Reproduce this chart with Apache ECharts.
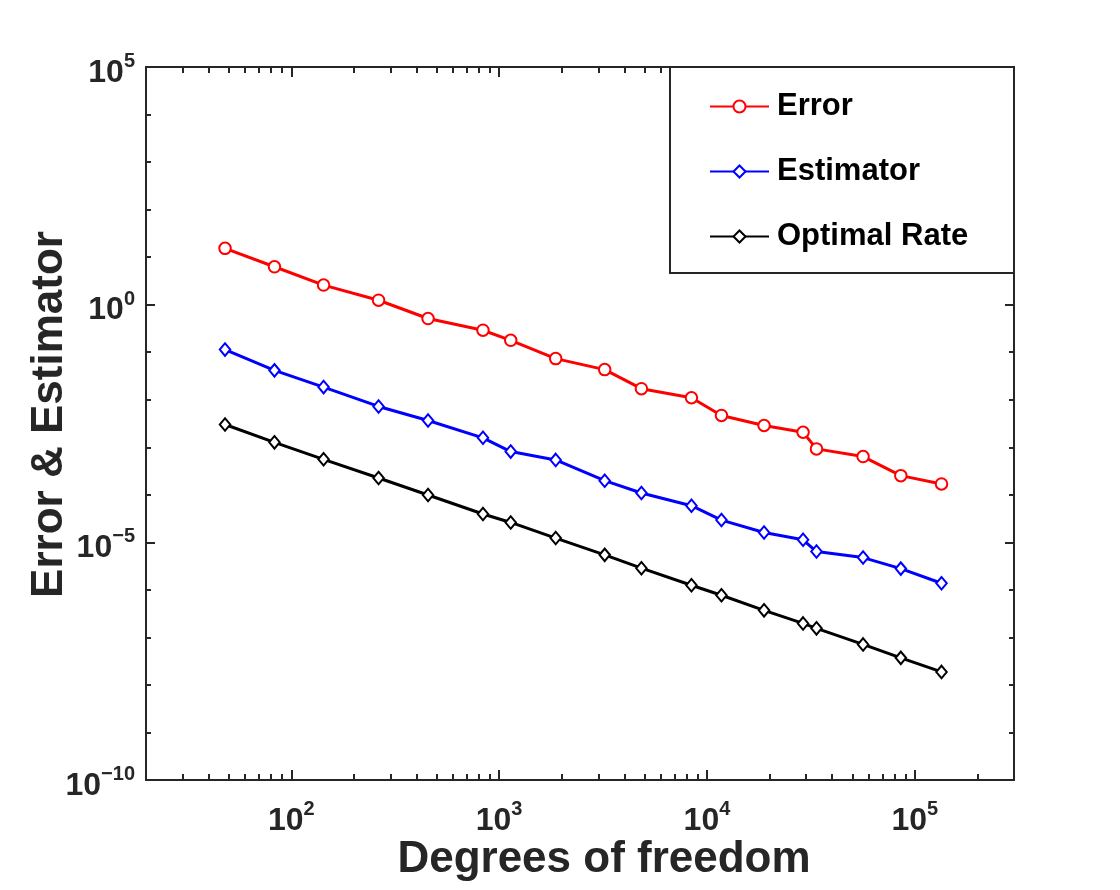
<!DOCTYPE html>
<html>
<head>
<meta charset="utf-8">
<script src="https://cdn.jsdelivr.net/npm/echarts@6/dist/echarts.min.js"></script>
<style>
html,body{margin:0;padding:0;background:#fff;}
#chart{width:1120px;height:890px;}
</style>
</head>
<body>
<div id="chart"></div>
<script>
// ---- data ----
const dof = [48, 83, 143, 263, 455, 836, 1137, 1871, 3220, 4837, 8420, 11740, 18820, 28990, 33640, 56370, 85610, 134400];
const errorVals = [15.3, 6.27, 2.58, 1.24, 0.511, 0.290, 0.178, 0.0733, 0.0430, 0.0171, 0.0110, 0.00467, 0.00287, 0.00207, 0.000925, 0.000637, 0.000253, 0.000169];
const estimatorVals = [0.1135, 0.0415, 0.01845, 0.00722, 0.00366, 0.00158, 0.000811, 0.000542, 0.000198, 0.000109, 5.89e-5, 2.94e-5, 1.61e-5, 1.13e-5, 6.40e-6, 4.78e-6, 2.80e-6, 1.38e-6];
const optimalVals = [0.00301, 0.00127, 0.000558, 0.000226, 9.90e-5, 3.94e-5, 2.62e-5, 1.23e-5, 5.45e-6, 2.86e-6, 1.25e-6, 7.69e-7, 3.71e-7, 1.97e-7, 1.55e-7, 7.12e-8, 3.71e-8, 1.88e-8];
const seriesNames = ['Error', 'Estimator', 'Optimal Rate'];

// ---- axes / ticks ----
const xRange = [20, 300000];
const yRange = [1e-10, 1e5];
const xMajorTicks = [100, 1000, 10000, 100000];
const xMinorTicks = [30, 40, 50, 60, 70, 80, 90,
  200, 300, 400, 500, 600, 700, 800, 900,
  2000, 3000, 4000, 5000, 6000, 7000, 8000, 9000,
  20000, 30000, 40000, 50000, 60000, 70000, 80000, 90000,
  200000];
const yMajorTicks = [1e-10, 1e-5, 1, 1e5];
const yMinorTicks = [1e-9, 1e-8, 1e-7, 1e-6, 1e-4, 1e-3, 1e-2, 1e-1, 1e1, 1e2, 1e3, 1e4];

const AX = '#262626';
const FONT = '"Liberation Sans", Arial, Helvetica, sans-serif';

function powLabel(v) {
  const e = Math.round(Math.log10(v));
  const txt = e < 0 ? '\u2212' + (-e) : String(e);
  return '{b|10}{s|' + txt + '}';
}
const richLabel = {
  b: {fontSize: 32, fontWeight: 'bold', color: AX, fontFamily: FONT, lineHeight: 44, verticalAlign: 'bottom'},
  s: {fontSize: 20, fontWeight: 'bold', color: AX, fontFamily: FONT, lineHeight: 20, verticalAlign: 'top', padding: [6.5, 0, 0, 0]}
};

function makeAxis(opts) {
  const major = opts.major;
  return {
    type: 'log',
    logBase: 10,
    gridIndex: major ? 0 : 1,
    position: opts.position,
    min: opts.range[0],
    max: opts.range[1],
    axisLine: {show: major, onZero: false, lineStyle: {color: AX, width: 2}},
    axisTick: {
      show: true, inside: true, length: opts.len,
      customValues: opts.ticks,
      lineStyle: {color: AX, width: 2}
    },
    axisLabel: opts.label ? {
      show: true, customValues: opts.ticks, margin: opts.margin,
      formatter: powLabel, rich: richLabel
    } : {show: false},
    splitLine: {show: false},
    minorTick: {show: false},
    minorSplitLine: {show: false}
  };
}

const xMain = makeAxis({major: true, position: 'bottom', range: xRange, len: 10, ticks: xMajorTicks, label: true, margin: 13});
Object.assign(xMain, {
  name: 'Degrees of freedom', nameLocation: 'middle', nameGap: 58, nameMoveOverlap: false,
  nameTextStyle: {fontSize: 44, fontWeight: 'bold', color: AX, fontFamily: FONT, lineHeight: 44, padding: [0, 0, 0, 48]}
});
const yMain = makeAxis({major: true, position: 'left', range: yRange, len: 9, ticks: yMajorTicks, label: true, margin: 11});
Object.assign(yMain, {
  name: 'Error & Estimator', nameLocation: 'middle', nameGap: 74, nameRotate: 90, nameMoveOverlap: false,
  nameTextStyle: {fontSize: 44, fontWeight: 'bold', color: AX, fontFamily: FONT, lineHeight: 44, padding: [0, 0, 0, 18]}
});

const xAxes = [
  xMain,
  makeAxis({major: true, position: 'top', range: xRange, len: 10, ticks: xMajorTicks, label: false}),
  makeAxis({major: false, position: 'bottom', range: xRange, len: 6, ticks: xMinorTicks, label: false}),
  makeAxis({major: false, position: 'top', range: xRange, len: 6, ticks: xMinorTicks, label: false})
];
const yAxes = [
  yMain,
  makeAxis({major: true, position: 'right', range: yRange, len: 9, ticks: yMajorTicks, label: false}),
  makeAxis({major: false, position: 'left', range: yRange, len: 5, ticks: yMinorTicks, label: false}),
  makeAxis({major: false, position: 'right', range: yRange, len: 5, ticks: yMinorTicks, label: false})
];

function lineSeries(name, vals, color, symbol, size) {
  return {
    name: name,
    type: 'line',
    xAxisIndex: 0,
    yAxisIndex: 0,
    data: dof.map((x, i) => [x, vals[i]]),
    symbol: symbol,
    symbolSize: size,
    showAllSymbol: true,
    lineStyle: {color: color, width: 3},
    itemStyle: {color: color, borderColor: color, borderWidth: 2.5},
    emphasis: {disabled: true},
    z: 3
  };
}

const chart = echarts.init(document.getElementById('chart'), null, {renderer: 'canvas'});
chart.setOption({
  backgroundColor: '#fff',
  animation: false,
  grid: [
    {left: 146, right: 106, top: 67, bottom: 110, containLabel: false},
    {left: 146, right: 106, top: 67, bottom: 110, containLabel: false}
  ],
  xAxis: xAxes,
  yAxis: yAxes,
  legend: {
    orient: 'vertical',
    left: 670, top: 67,
    padding: [24, 40, 21, 39],
    itemWidth: 59, itemHeight: 15, itemGap: 34,
    borderColor: AX, borderWidth: 2, backgroundColor: '#fff',
    textStyle: {fontSize: 31, fontWeight: 'bold', color: '#000', fontFamily: FONT, lineHeight: 31, width: 197, padding: [0, 0, 0, 3]},
    data: seriesNames
  },
  series: [
    lineSeries(seriesNames[0], errorVals, '#ff0000', 'emptyCircle', 11.5),
    lineSeries(seriesNames[1], estimatorVals, '#0000ff', 'emptyDiamond', [10.5, 12.5]),
    lineSeries(seriesNames[2], optimalVals, '#000000', 'emptyDiamond', [10.5, 12.5])
  ]
});
</script>
</body>
</html>
